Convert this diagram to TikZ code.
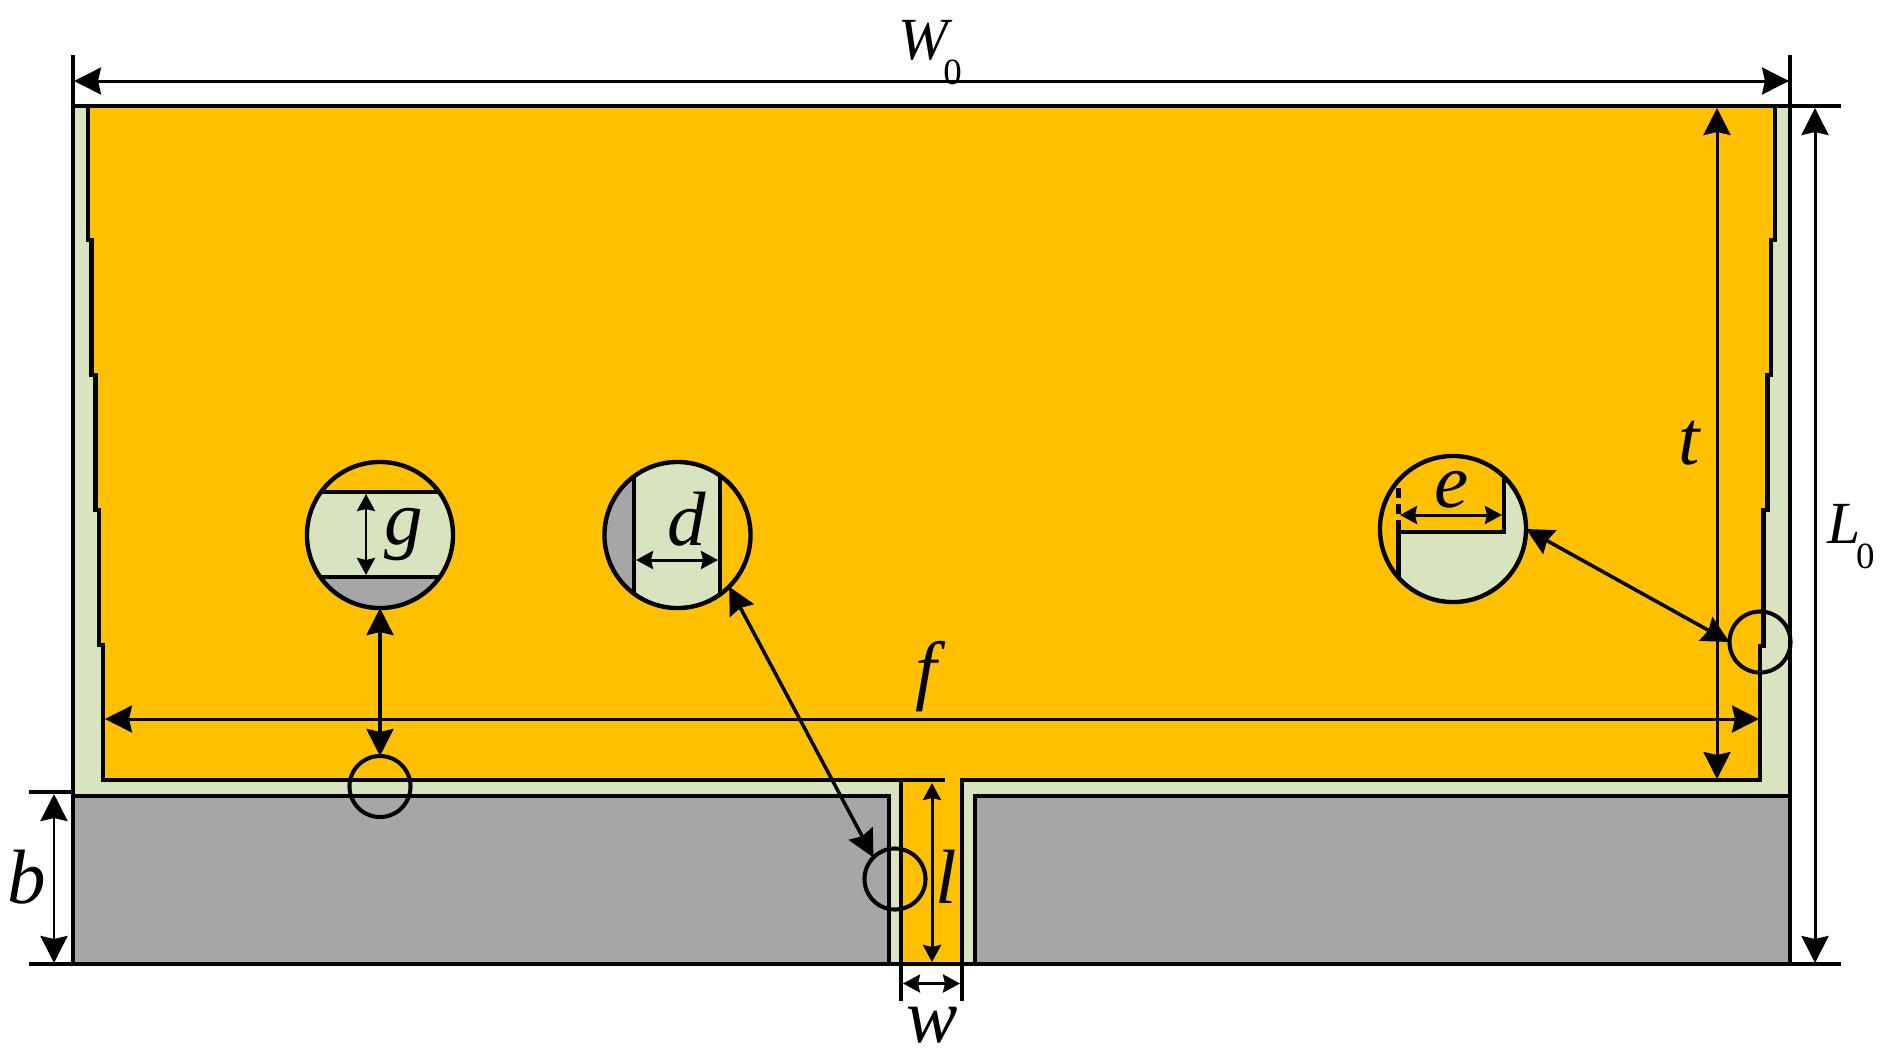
\documentclass[tikz,border=0pt]{standalone}
\usepackage{fontspec}
\setmainfont{Liberation Serif}[ItalicFont={Liberation Serif Italic}]
\usetikzlibrary{arrows.meta}
\definecolor{patchcol}{HTML}{FFC000}
\definecolor{subcol}{HTML}{D8E3BF}
\definecolor{gndcol}{HTML}{A6A6A6}
\newcommand{\subzero}{\kern-.08em\raisebox{-.42em}{\fontsize{10.5pt}{10.5pt}\selectfont\upshape 0}}
\tikzset{
	metal/.style={draw,line width=1.2pt,line join=miter},
	bigdim/.style={line width=.85pt,{Stealth[length=.27cm,width=.27cm,inset=.03cm]}-{Stealth[length=.27cm,width=.27cm,inset=.03cm]}},
	smalldim/.style={line width=.85pt,{Stealth[length=.17cm,width=.18cm,inset=.02cm]}-{Stealth[length=.17cm,width=.18cm,inset=.02cm]}},
	guide/.style={line width=.9pt},
	zoomcirc/.style={circle,draw,line width=1.25pt,minimum size=1.46cm,inner sep=0pt,outer sep=0pt},
	spotcirc/.style={circle,draw,line width=1.15pt,minimum size=.61cm,inner sep=0pt,outer sep=0pt},
	lab/.style={inner sep=0pt,font=\fontsize{21.9pt}{22pt}\selectfont\itshape},
	caplab/.style={inner sep=0pt,font=\fontsize{17pt}{18pt}\selectfont\itshape}
}
\begin{document}
\begin{tikzpicture}[x=.01cm,y=-.01cm]
	\useasboundingbox (0,0) rectangle (1887,1060);
	\draw [metal,fill=subcol] (73,106) rectangle (1790,964);
	\draw [metal,fill=gndcol] (73,796) rectangle (889,964);
	\draw [metal,fill=gndcol] (975,796) rectangle (1790,964);
	\draw [metal,fill=patchcol] (88,106) -- (88,240) -- (91.5,240) -- (91.5,375) -- (95.5,375) -- (95.5,510) -- (99,510) -- (99,645) -- (103,645) -- (103,780) -- (901,780) -- (901,964) -- (962,964) -- (962,780) -- (1760,780) -- (1760,646) -- (1763.5,646) -- (1763.5,510) -- (1767.5,510) -- (1767.5,375) -- (1771,375) -- (1771,240) -- (1775,240) -- (1775,106) -- cycle;

	\begin{scope}
		\clip (380,535) circle [radius=73];
		\fill [subcol] (300,492) rectangle (460,577);
		\fill [gndcol] (300,577) rectangle (460,620);
		\draw [metal] (300,492) -- (460,492);
		\draw [metal] (300,577) -- (460,577);
	\end{scope}
	\begin{scope}
		\clip (677.5,535) circle [radius=73];
		\fill [gndcol] (600,450) rectangle (634,620);
		\fill [subcol] (634,450) rectangle (720,620);
		\draw [metal] (634,450) -- (634,620);
		\draw [metal] (720,450) -- (720,620);
	\end{scope}
	\begin{scope}
		\clip (1453,529) circle [radius=73];
		\fill [subcol] (1398.5,610) -- (1398.5,532) -- (1504,532) -- (1504,450) -- (1530,450) -- (1530,610) -- cycle;
		\draw [metal] (1398.5,610) -- (1398.5,532) -- (1504,532) -- (1504,450);
		\draw [line width=1.2pt,dash pattern=on .1cm off .06cm] (1398.5,530) -- (1398.5,484);
	\end{scope}

	\node [zoomcirc] (gzoom) at (380,535) {};
	\node [zoomcirc] (dzoom) at (677.5,535) {};
	\node [zoomcirc] (ezoom) at (1453,529) {};
	\node [spotcirc] (gspot) at (380,786.5) {};
	\node [spotcirc] (dspot) at (895,879) {};
	\node [spotcirc] (espot) at (1760,642) {};
	\draw [bigdim,line width=1pt] (gzoom.south) -- (gspot.north);
	\draw [bigdim,line width=1pt] (dzoom.-45) -- (dspot.135);
	\draw [bigdim,line width=1pt] (ezoom.east) -- (espot.west);

	\coordinate (wtl) at (73,55);
	\coordinate (wbl) at (73,106);
	\coordinate (wtr) at (1790,55);
	\coordinate (wbr) at (1790,106);
	\coordinate (wa) at (74,81);
	\coordinate (wb) at (1789,81);
	\draw [guide] (wtl) -- (wbl);
	\draw [guide] (wtr) -- (wbr);
	\draw [bigdim] (wa) -- (wb);

	\coordinate (ltl) at (1790,106);
	\coordinate (ltr) at (1841,106);
	\coordinate (lbl) at (1790,964);
	\coordinate (lbr) at (1841,964);
	\coordinate (la) at (1815,108);
	\coordinate (lb) at (1815,963);
	\draw [line width=1.1pt] (ltl) -- (ltr);
	\draw [line width=1.1pt] (lbl) -- (lbr);
	\draw [bigdim] (la) -- (lb);

	\coordinate (ta) at (1717,108);
	\coordinate (tb) at (1717,779);
	\draw [bigdim] (ta) -- (tb);
	\coordinate (fa) at (105,719);
	\coordinate (fb) at (1759,719);
	\draw [bigdim] (fa) -- (fb);

	\coordinate (btl) at (29,792);
	\coordinate (btr) at (73,792);
	\coordinate (bbl) at (29,964);
	\coordinate (bbr) at (73,964);
	\coordinate (ba) at (54,794);
	\coordinate (bb) at (54,963);
	\draw [line width=1.1pt] (btl) -- (btr);
	\draw [line width=1.1pt] (bbl) -- (bbr);
	\draw [bigdim] (ba) -- (bb);

	\coordinate (fdl) at (901,780);
	\coordinate (fdr) at (945,780);
	\draw [guide] (fdl) -- (fdr);
	\coordinate (sa) at (932,783);
	\coordinate (sb) at (932,962);
	\draw [smalldim] (sa) -- (sb);

	\coordinate (ml) at (901,964);
	\coordinate (mlb) at (901,1001);
	\coordinate (mr) at (962,964);
	\coordinate (mrb) at (962,1001);
	\draw [metal] (ml) -- (mlb);
	\draw [metal] (mr) -- (mrb);
	\coordinate (wwa) at (903,983.5);
	\coordinate (wwb) at (960,983.5);
	\draw [smalldim] (wwa) -- (wwb);

	\coordinate (ga) at (366,494);
	\coordinate (gb) at (366,575);
	\draw [smalldim] (ga) -- (gb);
	\coordinate (da) at (636,560);
	\coordinate (db) at (718,560);
	\draw [smalldim] (da) -- (db);
	\coordinate (ea) at (1400,515);
	\coordinate (eb) at (1502,515);
	\draw [smalldim] (ea) -- (eb);

	\node [caplab] (W0) at (930,53) {W\subzero};
	\node [caplab] (L0) at (1851,537) {L\subzero};
	\node [lab] (tlab) at (1689,443) {t};
	\node [lab] (flab) at (926,677) {f};
	\node [lab] (blab) at (27,877) {b};
	\node [lab] (slab) at (946,877) {l};
	\node [lab] (wlab) at (932,1025) {w};
	\node [lab] (glab) at (404,535) {g};
	\node [lab] (dlab) at (687,519) {d};
	\node [lab] (elab) at (1452,490) {e};
\end{tikzpicture}
\end{document}
